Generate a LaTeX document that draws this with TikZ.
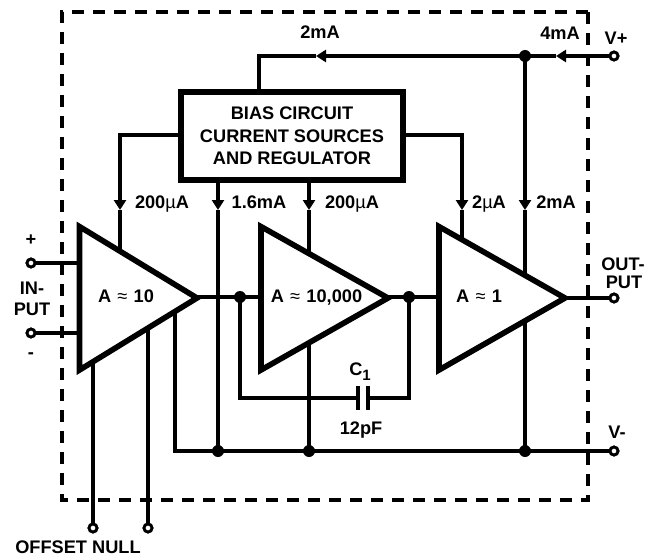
\documentclass[tikz,border=0pt]{standalone}
\usepackage{fontspec}
\setmainfont{Liberation Sans}
\usetikzlibrary{arrows.meta}
\newcommand{\aprx}{\kern1.2pt{\mdseries ≈}\kern1.2pt}
\newcommand{\mcu}{{\mdseries µ}}
\tikzset{
  wire/.style={line width=3.2pt},
  flow/.style={wire,-{Triangle[length=10pt,width=12pt]}},
  amp/.style={line width=5.6pt,fill=white,miter limit=10},
  term/.style={circle,draw,line width=2.8pt,fill=white,minimum size=8pt,inner sep=0pt,outer sep=0pt},
  dot/.style={circle,fill=black,minimum size=12pt,inner sep=0pt,outer sep=0pt},
  lbl/.style={anchor=base,inner sep=0pt,font=\bfseries\fontsize{18.2}{20}\selectfont,align=center},
  frame/.style={line width=3.6pt,dash pattern=on 12pt off 9pt},
  biasbox/.style={draw,line width=5.6pt,fill=white,minimum width=222pt,minimum height=88pt,outer sep=0pt,inner sep=0pt,align=center,font=\bfseries\fontsize{18.2}{22.5}\selectfont}
}
\begin{document}
\begin{tikzpicture}[x=1pt,y=-1pt]
\useasboundingbox (0,0) rectangle (650,556);
% terminals and junctions
\node[term] (vp) at (614,56) {};
\node[term] (out) at (614,298) {};
\node[term] (vm) at (614,451) {};
\node[term] (inp) at (31,263) {};
\node[term] (inm) at (31,333) {};
\node[term] (off1) at (93,528) {};
\node[term] (off2) at (148,528) {};
\coordinate (jt) at (525,56);
\coordinate (j1) at (218,451);
\coordinate (j2) at (309,451);
\coordinate (j3) at (525,451);
\coordinate (ja) at (240,297);
\coordinate (jb) at (409,297);
\node[biasbox] (bias) at (292,136) {BIAS CIRCUIT\\CURRENT SOURCES\\AND REGULATOR};
% frame
\coordinate (fa) at (62,12); \coordinate (fb) at (588,12);
\coordinate (fc) at (588,500); \coordinate (fd) at (62,500);
\draw[frame] (fb) -- (fa) -- (fd) -- (fc) -- (fb);
% wires
\coordinate (arr4) at (556,56);
\coordinate (arr2) at (316,56);
\coordinate (topl) at (259,56);
\coordinate (a1) at (120,210);
\coordinate (a2) at (218,210);
\coordinate (a3) at (309,210);
\coordinate (a4) at (462,210);
\coordinate (a5) at (525,210);
\coordinate (t1) at (120,250);
\coordinate (t3) at (462,250);
\draw[flow] (vp) -- (arr4);
\draw[wire] (arr4) -- (jt);
\draw[flow] (jt) -- (arr2);
\draw[wire] (arr2) -- (topl) -- (topl |- bias.north);
\draw[flow] (jt) -- (a5);
\draw[wire] (a5) -- (j3);
\draw[flow] (bias.west |- 0,135) -| (a1);
\draw[wire] (a1) -- (t1);
\draw[flow] (bias.east |- 0,135) -| (a4);
\draw[wire] (a4) -- (t3);
\draw[flow] (a2 |- bias.south) -- (a2);
\draw[wire] (a2) -- (j1);
\draw[flow] (a3 |- bias.south) -- (a3);
\draw[wire] (a3) -- (j2);
\coordinate (vl) at (175,310);
\draw[wire] (vm) -- (j3) -- (j2) -- (j1) -- (vl |- j1) -- (vl);
\draw[wire] (inp) -- (80,263);
\draw[wire] (inm) -- (80,333);
\draw[wire] (off1) -- (93,360);
\draw[wire] (off2) -- (148,330);
\draw[wire] (190,297) -- (ja) -- (265,297);
\draw[wire] (380,297) -- (jb) -- (440,297);
\draw[wire] (560,298) -- (out);
% capacitor
\coordinate (cl) at (358,398);
\coordinate (cr) at (368,398);
\draw[wire] (ja) |- (cl);
\draw[wire] (jb) |- (cr);
\draw[line width=3.6pt] (358,386) -- (358,410);
\draw[line width=3.6pt] (368,386) -- (368,410);
% amplifiers
\coordinate (A1a) at (79.5,226.6); \coordinate (A1b) at (79.5,370); \coordinate (A1c) at (197,298);
\coordinate (A2a) at (261,226.6); \coordinate (A2b) at (261,370); \coordinate (A2c) at (388,298);
\coordinate (A3a) at (439,226.6); \coordinate (A3b) at (439,370); \coordinate (A3c) at (565,298);
\draw[amp] (A1a) -- (A1b) -- (A1c) -- cycle;
\draw[amp] (A2a) -- (A2b) -- (A2c) -- cycle;
\draw[amp] (A3a) -- (A3b) -- (A3c) -- cycle;
% dots
\node[dot] (djt) at (jt) {};
\node[dot] (d1) at (j1) {};
\node[dot] (d2) at (j2) {};
\node[dot] (d3) at (j3) {};
\node[dot] (da) at (ja) {};
\node[dot] (db) at (jb) {};
\foreach \n/\p in {vp/{614,56},out/{614,298},vm/{614,451},inp/{31,263},inm/{31,333},off1/{93,528},off2/{148,528}}
  \node[term] at (\p) {};
% labels
\node[lbl] (l2ma) at (320,39) {2mA};
\node[lbl] (l4ma) at (560,40) {4mA};
\node[lbl] (lvp) at (616,45) {V+};
\node[lbl] (l200a) at (162,208) {200\mcu A};
\node[lbl] (l16) at (259,208) {1.6mA};
\node[lbl] (l200b) at (352,208) {200\mcu A};
\node[lbl] (l2u) at (489,208) {2\mcu A};
\node[lbl] (l2mb) at (556,208) {2mA};
\node[lbl] (amp1) at (126,302) {A \aprx\ 10};
\node[lbl] (amp2) at (316.5,302) {A \aprx\ 10,000};
\node[lbl] (amp3) at (479,302) {A \aprx\ 1};
\node[lbl] (lp) at (31,245) {+};
\node[lbl] (lm) at (31,358) {-};
\node[lbl] (lin) at (32,294) {IN-};
\node[lbl] (lput) at (32,315) {PUT};
\node[lbl] (lc) at (360,375) {C\raisebox{-5pt}{\fontsize{15}{15}\selectfont 1}};
\node[lbl] (lpf) at (361,434) {12pF};
\node[lbl] (lout) at (623,270) {OUT-};
\node[lbl] (lput2) at (624,288) {PUT};
\node[lbl] (lvm) at (617,438) {V-};
\node[lbl,text depth=0pt] (lnull) at (78,553) {OFFSET NULL};
\end{tikzpicture}
\end{document}
